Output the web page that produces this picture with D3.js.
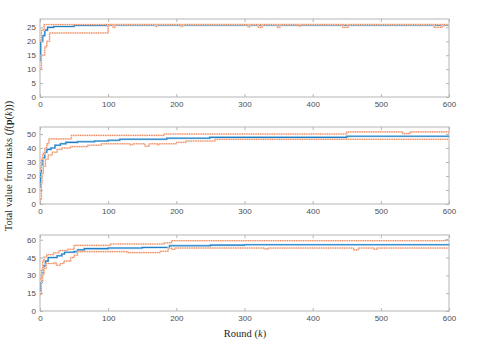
<!DOCTYPE html>
<html lang="en">
<head>
    <meta charset="UTF-8">
    <title>Total value per round</title>
    <script src="https://d3js.org/d3.v7.min.js"></script>
    <style>
        body { margin: 0; background: white; }
        .tick text { font-family: "Liberation Sans", Arial, sans-serif; font-size: 8px; fill: #4d4d4d; }
        .tick line { stroke: #b5b5b5; }
        .lbl { font-family: "Liberation Serif", "DejaVu Serif", serif; font-size: 10.5px; fill: #262626; }
    </style>
</head>
<body>
    <svg id='svg'></svg>
    <script>
        // rounds shown on every x axis
        const xTicks = [0, 100, 200, 300, 400, 500, 600];

        // panel 1: [round, value] step points
        const p1Mean = [[0,13],[1,20],[4,22],[7,24],[11,25],[20,25.3],[50,25.7],[100,25.8],[600,25.8]];
        const p1Upper = [[0,20],[2,24],[6,26],[600,26]];
        const p1Lower = [[0,10],[2,15],[7,18],[10,20],[14,23],[100,26],[107,25],[110,26],[170,25.3],[172,26],
            [207,25.3],[209,26],[305,25.2],[308,26],[320,25],[326,26],[348,25],[352,26],[380,25.4],[382,26],
            [444,25],[452,26],[578,25],[590,26],[600,26]];
        const p1Ticks = [0, 5, 10, 15, 20, 25];

        // panel 2
        const p2Mean = [[0,12],[1,22],[2,28],[4,33],[7,37],[10,39],[16,40],[22,42],[30,43],[38,44],[55,44.5],
            [80,45],[100,45.5],[117,46.3],[186,47],[249,47.6],[450,48.4],[600,48.4]];
        const p2Upper = [[0,25],[2,32],[4,36],[7,40],[10,43],[13,46.5],[46,49],[182,50],[450,51.5],[532,50.3],
            [543,51.5],[600,51.5]];
        const p2Lower = [[0,3],[2,15],[3,22],[5,27],[8,32],[12,35],[18,37],[25,39],[32,40],[45,41],[70,42],
            [90,43],[132,42.3],[136,43],[154,41.2],[160,43],[172,42.4],[175,43],[200,44],[214,45],[257,46.2],[600,46.2]];
        const p2Ticks = [0, 10, 20, 30, 40, 50];

        // panel 3
        const p3Mean = [[0,17],[1,24],[3,32],[5,38],[8,42],[12,45],[25,46.5],[32,48],[36,49.5],[50,50],[55,51.5],
            [65,52.5],[100,53],[150,53.5],[190,55],[250,55.5],[300,55.8],[600,56]];
        const p3Upper = [[0,27],[2,35],[4,42],[6,45.5],[10,47.5],[20,49],[28,51],[40,52],[50,55.3],[103,56.4],
            [182,57.5],[193,59.2],[595,60],[600,60]];
        const p3Lower = [[0,14],[2,25],[4,31],[6,36],[9,40],[20,40.5],[24,38.5],[30,40],[35,42],[45,45],[50,47],
            [55,50],[129,49.2],[176,50.3],[188,53],[193,52],[198,53],[330,52.3],[335,53],[460,51.5],[467,53],
            [490,52],[494,53],[600,53]];
        const p3Ticks = [0, 15, 30, 45, 60];

        const width = 499;
        const height = 351;
        const svg = d3.select('#svg')
            .attr('width', width)
            .attr('height', height);

        const left = 40, right = 449;
        const panels = [
            {top: 19, bottom: 97, max: 28, ticks: p1Ticks, mean: p1Mean, upper: p1Upper, lower: p1Lower},
            {top: 127, bottom: 204, max: 55, ticks: p2Ticks, mean: p2Mean, upper: p2Upper, lower: p2Lower},
            {top: 235, bottom: 311, max: 64, ticks: p3Ticks, mean: p3Mean, upper: p3Upper, lower: p3Lower}
        ];

        const xScale = d3.scaleLinear().domain([0, 600]).range([left, right]);

        panels.forEach(p => {
            const yScale = d3.scaleLinear().domain([0, p.max]).range([p.bottom, p.top]);
            const g = svg.append('g');

            // box
            g.append('rect')
                .attr('x', left).attr('y', p.top)
                .attr('width', right - left).attr('height', p.bottom - p.top)
                .attr('fill', 'white').attr('stroke', '#b5b5b5');

            const line = d3.line()
                .x(d => xScale(d[0]))
                .y(d => yScale(d[1]))
                .curve(d3.curveStepAfter);

            // mean
            g.append('path').datum(p.mean)
                .attr('d', line).attr('fill', 'none')
                .attr('stroke', '#b4d4ee').attr('stroke-width', 2.2);
            g.append('path').datum(p.mean)
                .attr('d', line).attr('fill', 'none')
                .attr('stroke', '#1f7fc4').attr('stroke-width', 1.1);

            // bounds: light solid with dotted on top
            [p.upper, p.lower].forEach(s => {
                g.append('path').datum(s)
                    .attr('d', line).attr('fill', 'none')
                    .attr('stroke', '#f9d2bf').attr('stroke-width', 1.6);
                g.append('path').datum(s)
                    .attr('d', line).attr('fill', 'none')
                    .attr('stroke', '#e66d35').attr('stroke-width', 0.9)
                    .attr('stroke-dasharray', '1,1.3');
            });

            //axes
            g.append('g')
                .attr('transform', 'translate(0,' + p.bottom + ')')
                .call(d3.axisBottom(xScale).tickValues(xTicks).tickSizeInner(-3).tickSizeOuter(0).tickPadding(4));
            g.append('g')
                .attr('transform', 'translate(0,' + p.top + ')')
                .call(d3.axisTop(xScale).tickValues(xTicks).tickSizeInner(-3).tickSizeOuter(0).tickFormat(''));
            g.append('g')
                .attr('transform', 'translate(' + left + ',0)')
                .call(d3.axisLeft(yScale).tickValues(p.ticks).tickSizeInner(-3).tickSizeOuter(0).tickPadding(4));
            g.append('g')
                .attr('transform', 'translate(' + right + ',0)')
                .call(d3.axisRight(yScale).tickValues(p.ticks).tickSizeInner(-3).tickSizeOuter(0).tickFormat(''));
            g.selectAll('.domain').remove();
        });

        // x label
        const xl = svg.append('text')
            .attr('class', 'lbl')
            .attr('x', 245).attr('y', 337)
            .attr('text-anchor', 'middle');
        xl.append('tspan').text('Round (');
        xl.append('tspan').attr('font-style', 'italic').text('k');
        xl.append('tspan').text(')');

        // y label
        const yl = svg.append('text')
            .attr('class', 'lbl')
            .attr('transform', 'translate(12,166) rotate(-90)')
            .attr('text-anchor', 'middle');
        yl.append('tspan').text('Total value from tasks (');
        yl.append('tspan').attr('font-style', 'italic').text('f');
        yl.append('tspan').text('(');
        yl.append('tspan').attr('font-weight', 'bold').text('p');
        yl.append('tspan').text('(');
        yl.append('tspan').attr('font-style', 'italic').text('k');
        yl.append('tspan').text(')))');
    </script>
</body>
</html>
